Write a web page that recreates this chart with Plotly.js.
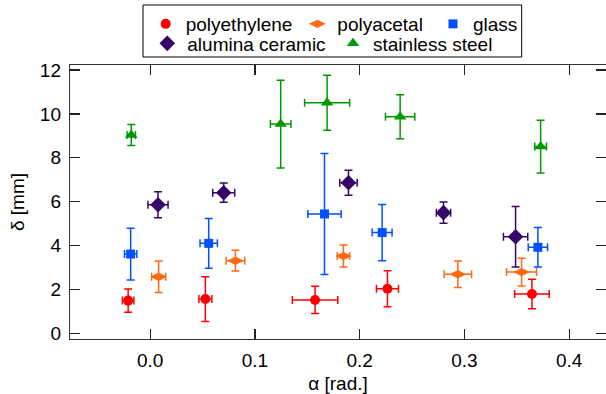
<!DOCTYPE html>
<html>
<head>
<meta charset="utf-8">
<script src="https://cdn.plot.ly/plotly-3.0.1.min.js"></script>
<style>html,body{margin:0;padding:0;background:#fff;}#chart{width:606px;height:394px;}</style>
</head>
<body>
<div id="chart"></div>
<script>
// Series names
const seriesNames = ["polyethylene", "polyacetal", "glass", "alumina ceramic", "stainless steel"];

// polyethylene
const peX    = [-0.021, 0.0527, 0.1574, 0.2265, 0.3644];
const peXerr = [0.0055, 0.0062, 0.0217, 0.0105, 0.0165];
const peY    = [1.49, 1.56, 1.52, 2.03, 1.79];
const peYerr = [0.53, 1.02, 0.62, 0.82, 0.67];

// polyacetal
const paX    = [0.0081, 0.0814, 0.1845, 0.2937, 0.3545];
const paXerr = [0.0067, 0.0089, 0.0059, 0.0131, 0.0143];
const paY    = [2.58, 3.31, 3.52, 2.69, 2.79];
const paYerr = [0.72, 0.47, 0.50, 0.60, 0.63];

// glass
const glX    = [-0.0186, 0.0559, 0.1664, 0.2214, 0.3701];
const glXerr = [0.0059, 0.0083, 0.0159, 0.0095, 0.0092];
const glY    = [3.61, 4.10, 5.44, 4.59, 3.92];
const glYerr = [1.18, 1.13, 2.76, 1.28, 0.90];

// alumina ceramic
const alX    = [0.0075, 0.0702, 0.1893, 0.2800, 0.3488];
const alXerr = [0.0096, 0.0105, 0.0083, 0.0068, 0.0116];
const alY    = [5.86, 6.41, 6.86, 5.50, 4.40];
const alYerr = [0.59, 0.44, 0.57, 0.48, 1.38];

// stainless steel
const ssX    = [-0.018, 0.1246, 0.1689, 0.2386, 0.3727];
const ssXerr = [0.0040, 0.0098, 0.0215, 0.0140, 0.0056];
const ssY    = [9.04, 9.54, 10.51, 9.87, 8.51];
const ssYerr = [0.48, 2.00, 1.25, 1.00, 1.20];

const xTicks = [0.0, 0.1, 0.2, 0.3, 0.4];
const xTickText = ["0.0", "0.1", "0.2", "0.3", "0.4"];
const yTicks = [0, 2, 4, 6, 8, 10, 12];

function mk(name, x, xe, y, ye, color, symbol, size, legendId) {
  return {
    type: 'scatter', mode: 'markers', name: name, legend: legendId,
    x: x, y: y,
    error_x: {type: 'data', array: xe, visible: true, color: color, thickness: 1.5, width: 4},
    error_y: {type: 'data', array: ye, visible: true, color: color, thickness: 1.5, width: 4},
    marker: {color: color, symbol: symbol, size: size, line: {width: 0}}
  };
}

const data = [
  mk(seriesNames[0], peX, peXerr, peY, peYerr, '#ff0000', 'circle', 10, 'legend'),
  mk(seriesNames[1], paX, paXerr, paY, paYerr, '#ff6a10', 'diamond-wide', 12, 'legend2'),
  mk(seriesNames[2], glX, glXerr, glY, glYerr, '#0050ff', 'square', 9, 'legend3'),
  mk(seriesNames[3], alX, alXerr, alY, alYerr, '#36066b', 'diamond', 12, 'legend4'),
  mk(seriesNames[4], ssX, ssXerr, ssY, ssYerr, '#009a00', 'triangle-up', 11, 'legend5')
];

const axisCommon = {
  showgrid: false, zeroline: false,
  showline: true, linecolor: '#333', linewidth: 1.2,
  mirror: 'ticks', ticks: 'inside', ticklen: 10, tickwidth: 1.2, tickcolor: '#222',
  tickfont: {size: 19, color: '#000'}
};

const legendCommon = {
  orientation: 'h', xanchor: 'left', yanchor: 'top',
  borderwidth: 0, bgcolor: 'rgba(0,0,0,0)',
  font: {size: 19, color: '#000'}, itemclick: false
};
const row1 = 1.219, row2 = 1.1478;

const layout = {
  width: 606, height: 394,
  margin: {l: 70, r: 0, t: 65, b: 55},
  paper_bgcolor: '#fff', plot_bgcolor: '#fff',
  font: {family: '"Liberation Sans", Arial, sans-serif', size: 19, color: '#000'},
  showlegend: true,
  legend:  Object.assign({}, legendCommon, {x: 0.1412, y: row1}),
  legend2: Object.assign({}, legendCommon, {x: 0.4241, y: row1}),
  legend3: Object.assign({}, legendCommon, {x: 0.6772, y: row1}),
  legend4: Object.assign({}, legendCommon, {x: 0.1442, y: row2}),
  legend5: Object.assign({}, legendCommon, {x: 0.4907, y: row2}),
  shapes: [{
    type: 'rect', xref: 'paper', yref: 'paper',
    x0: 0.1362, x1: 0.8427, y0: 1.0292, y1: 1.219,
    line: {color: '#000', width: 1}, fillcolor: 'rgba(0,0,0,0)', layer: 'above'
  }],
  xaxis: Object.assign({}, axisCommon, {
    range: [-0.0765, 0.4351],
    tickvals: xTicks, ticktext: xTickText,
    ticklabelstandoff: 4,
    title: {text: 'α [rad.]', standoff: 8, font: {size: 19, color: '#000'}}
  }),
  yaxis: Object.assign({}, axisCommon, {
    range: [-0.26, 12.23],
    tickvals: yTicks,
    ticklabelstandoff: 4,
    title: {text: 'δ [mm]', standoff: 10, font: {size: 19, color: '#000'}}
  })
};

Plotly.newPlot('chart', data, layout, {displayModeBar: false, staticPlot: true});
</script>
</body>
</html>
